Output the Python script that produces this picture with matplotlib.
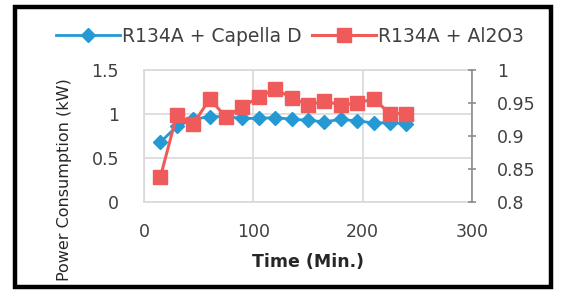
import matplotlib.pyplot as plt
from matplotlib.patches import Rectangle

time_min = [15, 30, 45, 60, 75, 90, 105, 120, 135, 150, 165, 180, 195, 210, 225, 240]
capella = [0.68, 0.86, 0.94, 0.97, 0.97, 0.95, 0.95, 0.96, 0.94, 0.93, 0.91, 0.94, 0.92, 0.90, 0.90, 0.89]
al2o3 = [0.838, 0.932, 0.918, 0.956, 0.929, 0.944, 0.959, 0.971, 0.958, 0.947, 0.953, 0.947, 0.950, 0.956, 0.934, 0.934]

left_ticks = [0, 0.5, 1, 1.5]
right_ticks = [0.8, 0.85, 0.9, 0.95, 1]
x_ticks = [0, 100, 200, 300]

blue = '#2499d4'
red = '#ef5a5a'
grid_c = '#d9d9d9'
txt_c = '#404040'

fig = plt.figure(figsize=(5.62, 2.92), dpi=100)
ax = fig.add_axes([144/562, 1-202/292, (472-144)/562, (202-70)/292])
ax2 = ax.twinx()

l1, = ax.plot(time_min, capella, color=blue, lw=2, marker='D', ms=7, label='R134A + Capella D')
l2, = ax2.plot(time_min, al2o3, color=red, lw=2.2, marker='s', ms=9.5, label='R134A + Al2O3')

ax.set_xlim(0, 300)
ax.set_ylim(0, 1.5)
ax2.set_ylim(0.8, 1)
ax.set_xticks(x_ticks)
ax.set_yticks(left_ticks)
ax.set_yticklabels(['0', '0.5', '1', '1.5'])
ax2.set_yticks(right_ticks)
ax2.set_yticklabels(['0.8', '0.85', '0.9', '0.95', '1'])

ax.grid(True, color=grid_c, lw=1.2)
ax.set_axisbelow(True)
for s in ['left', 'top', 'bottom']:
    ax.spines[s].set_color(grid_c)
    ax.spines[s].set_linewidth(1.2)
ax.spines['right'].set_visible(False)
for s in ['left', 'top', 'bottom']:
    ax2.spines[s].set_visible(False)
ax2.spines['right'].set_color('#8c8c8c')
ax2.spines['right'].set_linewidth(1.2)

ax.tick_params(axis='both', length=0, labelsize=12.5, labelcolor=txt_c)
ax.tick_params(axis='y', pad=18)
ax.tick_params(axis='x', pad=15)
ax2.tick_params(axis='y', direction='inout', length=6, width=1.2, color='#8c8c8c', pad=15,
                labelsize=12.5, labelcolor=txt_c)

ax.set_xlabel('Time (Min.)', fontsize=12.5, fontweight='bold', color='#262626', labelpad=9)
fig.text(64/562, 1-180/292, 'Power Consumption (kW)', rotation=90, fontsize=11.5,
         ha='center', va='center', color='#262626')

fig.legend(handles=[l1, l2], loc='center', bbox_to_anchor=(0.516, 1-36/292), ncol=2,
           frameon=False, fontsize=13.5, handlelength=3.4, handletextpad=0.1,
           columnspacing=0.6, labelcolor=txt_c)

fig.patches.append(Rectangle((14.5/562, 5/292), (551-14.5)/562, (287-7)/292,
                             transform=fig.transFigure, fill=False, ec='black', lw=3.2))

fig.savefig('out.png', dpi=100, facecolor='white')
